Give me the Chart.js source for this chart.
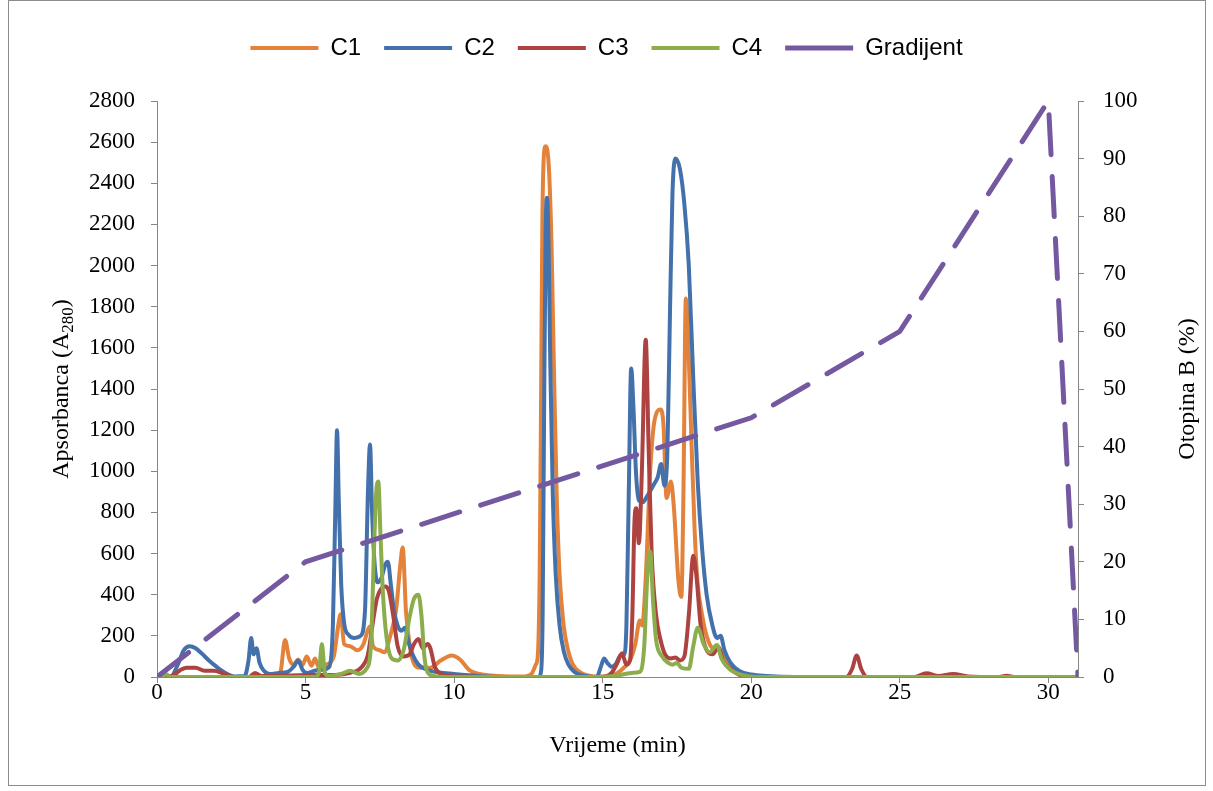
<!DOCTYPE html>
<html><head><meta charset="utf-8">
<script src="https://cdn.jsdelivr.net/npm/chart.js@4/dist/chart.umd.min.js"></script>
<style>html,body{margin:0;padding:0;background:#fff}</style>
</head><body>
<canvas id="c" width="1213" height="791"></canvas>
<script>
const seriesNames = ['C1', 'C2', 'C3', 'C4', 'Gradijent'];
const xTickValues = [0, 5, 10, 15, 20, 25, 30];
// [time (min), absorbance]
const c1Points = [[0,0],[3.9,0],[4.15,20],[4.31,180],[4.45,90],[4.6,60],[4.75,85],[4.9,60],[5.04,100],[5.2,55],[5.32,90],[5.45,45],[5.7,60],[5.95,100],[6.1,250],[6.18,305],[6.3,160],[6.5,150],[6.75,130],[6.95,160],[7.1,230],[7.17,245],[7.27,150],[7.5,130],[7.65,120],[7.85,200],[8.05,330],[8.2,560],[8.27,630],[8.38,320],[8.5,160],[8.65,65],[8.85,45],[9.2,45],[9.55,80],[9.92,105],[10.2,85],[10.5,35],[10.85,15],[11.5,5],[12.3,2],[12.6,15],[12.75,60],[12.82,110],[12.88,500],[12.93,1400],[12.97,2200],[13.02,2530],[13.08,2580],[13.14,2560],[13.2,2450],[13.28,2100],[13.36,1500],[13.45,900],[13.55,500],[13.68,260],[13.82,140],[14.0,60],[14.3,18],[14.8,3],[15.2,5],[15.5,20],[15.75,50],[15.95,90],[16.1,160],[16.25,275],[16.33,250],[16.45,480],[16.6,1000],[16.75,1250],[16.95,1300],[17.05,1220],[17.15,870],[17.3,950],[17.4,820],[17.55,470],[17.65,390],[17.72,900],[17.8,1840],[17.9,1550],[18.0,1100],[18.1,700],[18.2,450],[18.35,300],[18.5,200],[18.7,140],[18.95,130],[19.2,60],[19.5,25],[20.0,8],[21,0],[31,0]];
const c2Points = [[0,0],[0.45,0],[0.7,60],[0.9,130],[1.1,150],[1.3,140],[1.5,115],[1.75,80],[2.0,50],[2.3,20],[2.6,3],[2.95,5],[3.08,80],[3.17,190],[3.25,110],[3.35,140],[3.45,70],[3.6,30],[3.8,15],[4.1,20],[4.4,25],[4.6,50],[4.75,80],[4.9,35],[5.05,20],[5.3,30],[5.55,35],[5.8,50],[5.92,250],[6.0,800],[6.06,1200],[6.12,850],[6.2,450],[6.3,260],[6.45,205],[6.65,190],[6.85,200],[7.0,320],[7.1,900],[7.17,1130],[7.24,800],[7.32,560],[7.42,460],[7.55,480],[7.68,545],[7.77,560],[7.87,450],[7.97,330],[8.1,250],[8.22,225],[8.35,240],[8.45,180],[8.6,110],[8.8,60],[9.1,35],[9.5,22],[10,15],[10.5,8],[11,3],[12,0],[12.85,0],[12.93,30],[12.98,300],[13.03,1300],[13.08,2150],[13.13,2330],[13.18,2100],[13.24,1500],[13.32,900],[13.42,500],[13.55,250],[13.7,120],[13.85,60],[14.05,25],[14.4,5],[14.8,0],[14.95,55],[15.05,90],[15.15,70],[15.3,50],[15.45,65],[15.6,105],[15.72,110],[15.8,250],[15.88,900],[15.96,1500],[16.04,1300],[16.12,1000],[16.22,860],[16.35,850],[16.5,880],[16.7,930],[16.85,970],[16.97,1035],[17.08,930],[17.18,1100],[17.27,1800],[17.35,2350],[17.45,2520],[17.6,2470],[17.75,2300],[17.9,2000],[18.05,1450],[18.2,950],[18.35,620],[18.5,400],[18.68,260],[18.85,190],[18.97,200],[19.1,130],[19.3,70],[19.6,30],[20,12],[20.5,5],[21.5,0],[31,0]];
const c3Points = [[0,0],[0.5,5],[0.8,35],[1.0,45],[1.3,45],[1.6,30],[1.9,30],[2.15,22],[2.35,10],[2.6,0],[3.1,0],[3.3,20],[3.5,5],[4.0,5],[5.0,10],[6.0,10],[6.5,20],[6.9,50],[7.1,110],[7.25,250],[7.4,380],[7.55,430],[7.68,440],[7.8,420],[7.95,300],[8.1,150],[8.3,100],[8.5,110],[8.65,160],[8.8,185],[8.95,140],[9.1,160],[9.2,140],[9.35,50],[9.55,15],[9.8,5],[10.2,2],[11,0],[15.0,0],[15.3,20],[15.5,70],[15.65,115],[15.8,60],[15.92,80],[16.0,300],[16.07,750],[16.13,820],[16.22,650],[16.32,1000],[16.45,1640],[16.55,1100],[16.65,600],[16.8,300],[16.95,180],[17.1,110],[17.3,90],[17.45,95],[17.6,80],[17.75,100],[17.9,300],[18.05,590],[18.15,500],[18.3,250],[18.5,130],[18.7,110],[18.9,145],[19.05,80],[19.3,40],[19.6,10],[20.0,0],[23.2,0],[23.4,40],[23.55,105],[23.7,40],[23.9,0],[25.5,0],[25.9,18],[26.3,5],[26.8,15],[27.3,3],[28.3,0],[28.6,6],[28.9,0],[31,0]];
const c4Points = [[0,0],[0.2,5],[0.3,15],[0.45,0],[5.3,0],[5.45,20],[5.55,160],[5.65,20],[5.8,5],[6.2,15],[6.5,30],[6.8,15],[7.05,40],[7.2,150],[7.3,600],[7.38,900],[7.45,950],[7.52,700],[7.6,420],[7.72,200],[7.9,90],[8.1,80],[8.3,130],[8.5,290],[8.65,380],[8.8,400],[8.9,300],[9.0,100],[9.1,25],[9.3,5],[9.8,0],[15.0,0],[15.6,10],[16.0,20],[16.25,25],[16.4,150],[16.5,480],[16.6,610],[16.7,360],[16.8,180],[17.0,100],[17.2,70],[17.35,60],[17.5,68],[17.65,45],[17.9,40],[18.05,150],[18.2,240],[18.4,160],[18.6,120],[18.85,155],[19.0,90],[19.3,35],[19.7,10],[20.2,0],[31,0]];
// [time (min), % solution B]
const gradientPoints = [[0,0],[5,20],[20,45],[25,60],[30,100],[31,0]];

const colors = ['#E3823A', '#4371AB', '#AC4341', '#8CAD4B', '#7458A0'];
const toXY = pts => pts.map(p => ({x: p[0], y: p[1]}));
const SERIF = '"Liberation Serif", "Times New Roman", serif';
const AXIS = '#868686';

function peakSet(name, pts, color, order) {
  return {label: name, data: toXY(pts), borderColor: color, backgroundColor: color,
    borderWidth: 4, pointRadius: 0, cubicInterpolationMode: 'monotone', yAxisID: 'y', order: order,
    borderCapStyle: 'round', borderJoinStyle: 'round'};
}

const framePlugin = {
  id: 'frameTitles',
  afterDraw(chart) {
    const ctx = chart.ctx, a = chart.chartArea;
    ctx.save();
    ctx.strokeStyle = '#8c8c8c'; ctx.lineWidth = 1;
    ctx.strokeRect(8.5, 0.5, 1197, 785);
    const cy = (a.top + a.bottom) / 2;
    ctx.fillStyle = '#000'; ctx.textBaseline = 'middle'; ctx.textAlign = 'left';
    ctx.save();
    ctx.translate(62, cy); ctx.rotate(-Math.PI / 2);
    const big = '24px ' + SERIF, small = '17px ' + SERIF;
    ctx.font = big; const w1 = ctx.measureText('Apsorbanca (A').width, w3 = ctx.measureText(')').width;
    ctx.font = small; const w2 = ctx.measureText('280').width;
    let x = -(w1 + w2 + w3) / 2;
    ctx.font = big; ctx.fillText('Apsorbanca (A', x, 0); x += w1;
    ctx.font = small; ctx.fillText('280', x, 7); x += w2;
    ctx.font = big; ctx.fillText(')', x, 0);
    ctx.restore();
    ctx.save();
    ctx.translate(1188, cy); ctx.rotate(-Math.PI / 2);
    ctx.font = big; ctx.textAlign = 'center';
    ctx.fillText('Otopina B (%)', 0, 0);
    ctx.restore();
    ctx.restore();
  }
};

const legendFit = {
  id: 'legendFit',
  beforeInit(chart) {
    const orig = chart.legend.fit;
    chart.legend.fit = function () { orig.call(this); this.height = 88; };
  }
};

new Chart(document.getElementById('c'), {
  type: 'line',
  data: {
    datasets: [
      peakSet(seriesNames[0], c1Points, colors[0], 5),
      peakSet(seriesNames[1], c2Points, colors[1], 4),
      peakSet(seriesNames[2], c3Points, colors[2], 3),
      peakSet(seriesNames[3], c4Points, colors[3], 2),
      {label: seriesNames[4], data: toXY(gradientPoints), borderColor: colors[4], backgroundColor: colors[4],
        borderWidth: 5, borderDash: [40, 22], borderCapStyle: 'round', pointRadius: 0, tension: 0,
        yAxisID: 'y1', order: 1}
    ]
  },
  options: {
    responsive: false, animation: false,
    layout: {padding: {top: 13, left: 0, right: 0, bottom: 0}},
    plugins: {
      legend: {position: 'top', align: 'center',
        labels: {usePointStyle: true, pointStyle: 'line', pointStyleWidth: 68, boxHeight: 4, padding: 23,
          sort: (a, b) => a.datasetIndex - b.datasetIndex,
          color: '#000', font: {family: '"Liberation Sans", sans-serif', size: 24}}},
      tooltip: {enabled: false}
    },
    scales: {
      x: {type: 'linear', min: 0, max: 31,
        afterBuildTicks: s => { s.ticks = xTickValues.map(v => ({value: v})); },
        afterFit: s => { s.height = 114; },
        grid: {display: true, drawOnChartArea: false, drawTicks: true, tickLength: 6, color: AXIS},
        border: {color: AXIS, width: 1},
        ticks: {color: '#000', font: {family: SERIF, size: 23}, padding: -4, maxRotation: 0, callback: v => String(v)},
        title: {display: true, text: 'Vrijeme (min)', color: '#000', font: {family: SERIF, size: 24}, padding: {top: 0, bottom: 31}}
      },
      y: {type: 'linear', position: 'left', min: 0, max: 2800,
        ticks: {stepSize: 200, color: '#000', font: {family: SERIF, size: 23}, padding: 16, callback: v => String(v)},
        afterFit: s => { s.width = 157; },
        grid: {display: true, drawOnChartArea: false, tickLength: 6, color: AXIS},
        border: {color: AXIS, width: 1}
      },
      y1: {type: 'linear', position: 'right', min: 0, max: 100,
        ticks: {stepSize: 10, color: '#000', font: {family: SERIF, size: 23}, padding: 19, callback: v => String(v)},
        afterFit: s => { s.width = 135; },
        grid: {display: true, drawOnChartArea: false, tickLength: 6, color: AXIS},
        border: {color: AXIS, width: 1}
      }
    }
  },
  plugins: [legendFit, framePlugin]
});
</script>
</body></html>
